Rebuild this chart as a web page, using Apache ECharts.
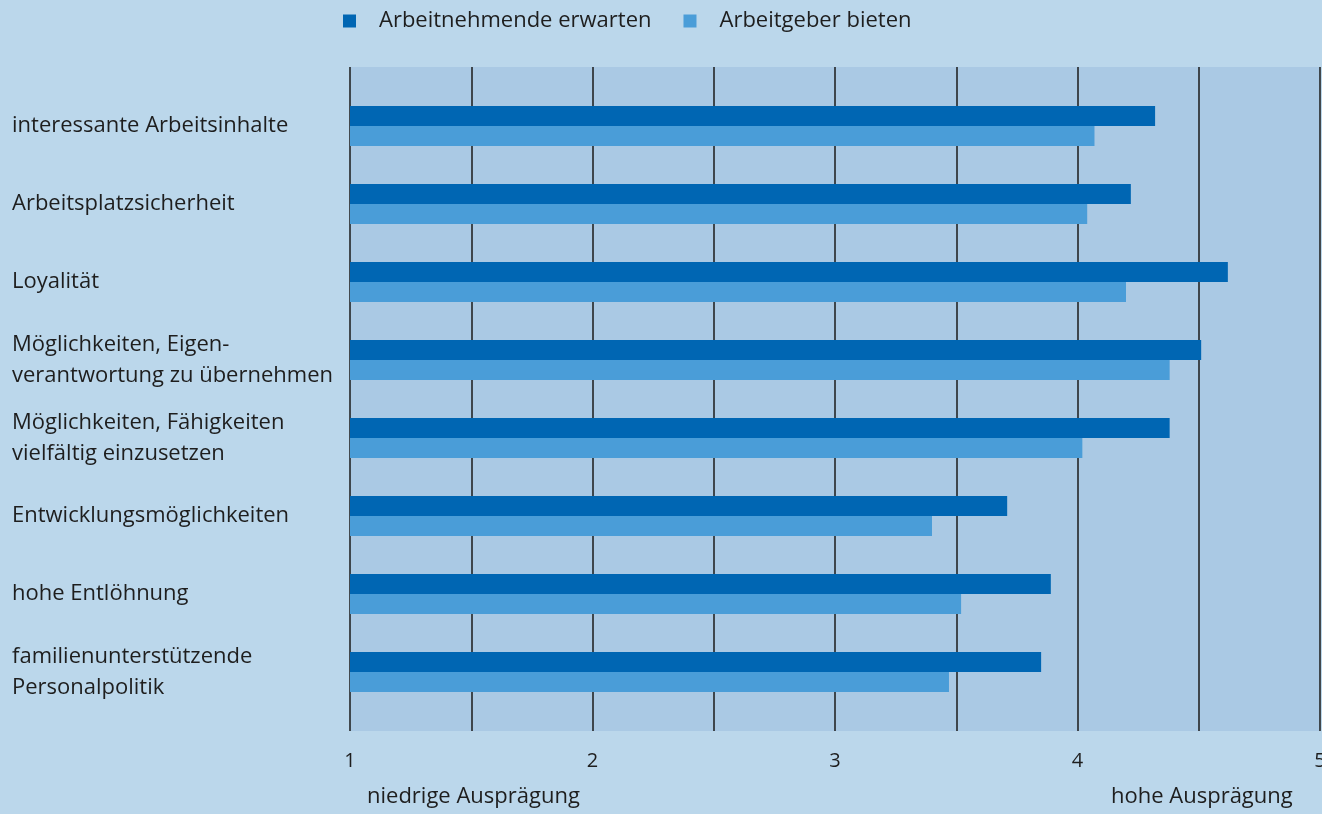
<!DOCTYPE html>
<html>
<head>
<meta charset="utf-8">
<script src="https://cdn.jsdelivr.net/npm/echarts@6/dist/echarts.min.js"></script>
<style>
    html, body { margin: 0; padding: 0; background: #bbd7eb; }
    #chart { width: 1322px; height: 814px; }
</style>
</head>
<body>
<div id="chart"></div>
<script>
// Kategorien (von oben nach unten)
var categories = [
    'interessante Arbeitsinhalte',
    'Arbeitsplatzsicherheit',
    'Loyalität',
    'Möglichkeiten, Eigen-\nverantwortung zu übernehmen',
    'Möglichkeiten, Fähigkeiten\nvielfältig einzusetzen',
    'Entwicklungsmöglichkeiten',
    'hohe Entlöhnung',
    'familienunterstützende\nPersonalpolitik'
];
var seriesNames = ['Arbeitnehmende erwarten', 'Arbeitgeber bieten'];
var erwarten = [4.32, 4.22, 4.62, 4.51, 4.38, 3.71, 3.89, 3.85];
var bieten = [4.07, 4.04, 4.20, 4.38, 4.02, 3.40, 3.52, 3.47];
var scaleLabels = ['niedrige Ausprägung', 'hohe Ausprägung'];

var fontFamily = 'Open Sans';
var textColor = '#1e1e1e';
var fontSize = 22;

var myChart = echarts.init(document.getElementById('chart'));
var option = {
    backgroundColor: '#bbd7eb',
    textStyle: { fontFamily: fontFamily },
    legend: {
        top: 5,
        left: 338,
        itemWidth: 13,
        itemHeight: 13,
        itemGap: 32,
        icon: 'rect',
        data: seriesNames,
        textStyle: {
            fontFamily: fontFamily,
            fontSize: fontSize,
            fontWeight: 500,
            color: textColor,
            padding: [0, 0, 0, 18]
        }
    },
    graphic: [
        { type: 'text', left: 367, top: 786, style: { text: scaleLabels[0], font: '500 22px "Open Sans"', fill: textColor } },
        { type: 'text', left: 1111, top: 786, style: { text: scaleLabels[1], font: '500 22px "Open Sans"', fill: textColor } }
    ],
    grid: [
        // Hintergrund und Skala
        { left: 350, right: 2, top: 67, height: 664, show: true, backgroundColor: '#aac9e4', borderWidth: 0, outerBoundsMode: 'none' },
        // Balken
        { left: 350, right: 2, top: 87, height: 624, outerBoundsMode: 'none' }
    ],
    xAxis: [
        {
            gridIndex: 0,
            type: 'value',
            min: 1,
            max: 5,
            interval: 0.5,
            axisLine: { show: false },
            axisTick: { show: false },
            splitLine: { lineStyle: { color: '#1a1a1a', width: 1.5 } },
            axisLabel: {
                margin: 20,
                fontSize: 20,
                fontWeight: 500,
                color: textColor,
                formatter: function (v) { return v % 1 === 0 ? v : ''; }
            }
        },
        {
            gridIndex: 1,
            type: 'value',
            min: 1,
            max: 5,
            show: false
        }
    ],
    yAxis: [
        {
            gridIndex: 0,
            type: 'value',
            show: false
        },
        {
            gridIndex: 1,
            type: 'category',
            inverse: true,
            data: categories,
            axisLine: { show: false },
            axisTick: { show: false },
            axisLabel: {
                align: 'left',
                margin: 338,
                fontSize: fontSize,
                fontWeight: 500,
                lineHeight: 31,
                color: textColor
            }
        }
    ],
    series: [
        {
            name: seriesNames[0],
            type: 'bar',
            xAxisIndex: 1,
            yAxisIndex: 1,
            barWidth: 20,
            barGap: '0%',
            data: erwarten,
            itemStyle: { color: '#0066b3' }
        },
        {
            name: seriesNames[1],
            type: 'bar',
            xAxisIndex: 1,
            yAxisIndex: 1,
            barWidth: 20,
            barGap: '0%',
            data: bieten,
            itemStyle: { color: '#4a9dd8' }
        }
    ]
};
myChart.setOption(option);
</script>
</body>
</html>
